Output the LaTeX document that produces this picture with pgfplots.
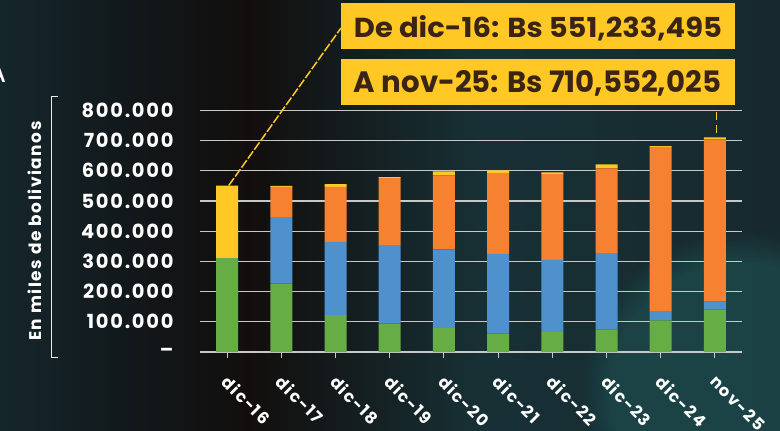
\documentclass[border=0pt]{standalone}
\usepackage{pgfplots}
\pgfplotsset{compat=1.18}
\usepackage{pgfplotstable}
\usepackage{graphicx}
\usepackage{fontspec}
\setmainfont{Poppins}
\newfontfamily\spaced[LetterSpace=9]{Poppins}
\usetikzlibrary{fadings}

\definecolor{cgreen}{HTML}{67AD45}
\definecolor{cblue}{HTML}{4E91CD}
\definecolor{corange}{HTML}{F58131}
\definecolor{cyellow}{HTML}{FFC824}
\definecolor{ctext}{HTML}{3A2415}
\definecolor{cgrid}{HTML}{C8C8C8}
\definecolor{cteal}{HTML}{1E5253}

\pgfdeclarehorizontalshading{bgshade}{100bp}{rgb(0bp)=(0.08,0.15,0.17); rgb(25bp)=(0.08,0.15,0.17); rgb(34bp)=(0.07,0.09,0.10); rgb(41bp)=(0.07,0.055,0.05); rgb(56bp)=(0.09,0.19,0.21); rgb(75bp)=(0.09,0.16,0.18); rgb(100bp)=(0.09,0.16,0.18)}

\pgfplotstableread{
x g b o y
0 311000 0 0 240233
1 227000 220000 100000 3000
2 122000 243000 182000 9000
3 94000 260000 222000 3000
4 80000 260000 245000 13000
5 62000 263000 267000 9000
6 66000 239000 284000 6000
7 75000 252000 281000 13000
8 105000 30000 544000 3000
9 140000 27000 537000 6552
}\datatable

\begin{document}
\begin{tikzpicture}
\path[use as bounding box] (0,0) rectangle (780bp,431bp);
\shade[shading=bgshade] (0,0) rectangle (780bp,431bp);
\fill[cteal, path fading=circle with fuzzy edge 20 percent, opacity=0.6] (740bp,40bp) circle (160bp);
% cut-off title letter
\node[text=white, anchor=base east, inner sep=0, font=\fontsize{30}{30}\selectfont] at (7bp,348bp) {A};
% bracket
\draw[white!85!gray, line width=1bp] (58bp,334.3bp) -- (51.7bp,334.3bp) -- (51.7bp,73bp) -- (58bp,73bp);
\begin{axis}[
  at={(200bp,79bp)}, anchor=south west,
  scale only axis, width=542bp, height=241.6bp,
  ybar stacked, bar width=22bp,
  xmin=-0.5, xmax=9.5, ymin=0, ymax=800000,
  xtick={0,...,9},
  xticklabels={dic-16,dic-17,dic-18,dic-19,dic-20,dic-21,dic-22,dic-23,dic-24,nov-25},
  ytick={0,100000,200000,300000,400000,500000,600000,700000,800000},
  yticklabels={\textendash,100.000,200.000,300.000,400.000,500.000,600.000,700.000,800.000},
  scaled y ticks=false,
  axis x line*=bottom, axis y line*=left,
  y axis line style={draw=none},
  x axis line style={cgrid, line width=1.3bp},
  ymajorgrids, grid style={cgrid, line width=1.3bp},
  major y tick style={draw=none},
  major x tick style={cgrid, line width=1bp},
  xtick align=outside, major tick length=6bp,
  yticklabel style={text=white, font=\spaced\bfseries\fontsize{19.5}{19.5}\selectfont, xshift=-23bp},
  xticklabel style={text=white, font=\spaced\bfseries\fontsize{16.5}{16.5}\selectfont, rotate=-45, anchor=north west, xshift=10bp, yshift=-6bp},
  ylabel={En miles de bolivianos},
  ylabel style={at={(axis description cs:-0.304,0.5)}, anchor=center, text=white, font=\spaced\bfseries\fontsize{17}{17}\selectfont},
  clip=false,
]
\addplot[fill=cgreen, draw=none] table[x=x, y=g] {\datatable};
\addplot[fill=cblue, draw=none] table[x=x, y=b] {\datatable};
\addplot[fill=corange, draw=none] table[x=x, y=o] {\datatable};
\addplot[fill=cyellow, draw=none] table[x=x, y=y] {\datatable};
\coordinate (p16) at (axis cs:0.03,551233);
\coordinate (p25) at (axis cs:9.03,710552);
\end{axis}
% leader lines
\draw[cyellow, line width=1.5bp, dash pattern=on 9bp off 2bp] (p16) -- (341bp,403bp);
\draw[cyellow, line width=1.8bp, dash pattern=on 8bp off 5bp] ([yshift=4bp]p25) -- ++(0,25bp);
% annotation boxes
\fill[cyellow] (341bp,382bp) rectangle (735bp,428bp);
\fill[cyellow] (341bp,326bp) rectangle (735bp,372bp);
\node[anchor=base, text=ctext, inner sep=0] at (538bp,393.3bp) {\resizebox{368bp}{22bp}{\bfseries De dic-16: Bs 551,233,495}};
\node[anchor=base, text=ctext, inner sep=0] at (537.5bp,338.7bp) {\resizebox{367bp}{22bp}{\bfseries A nov-25: Bs 710,552,025}};
\end{tikzpicture}
\end{document}
